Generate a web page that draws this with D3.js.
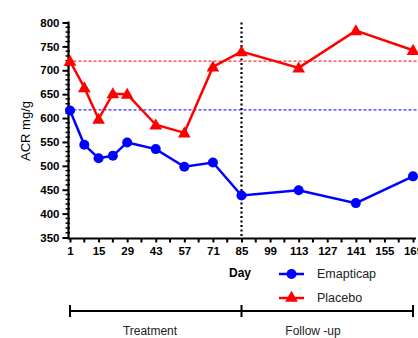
<!DOCTYPE html>
<html>
<head>
<meta charset="utf-8">
<script src="https://cdn.jsdelivr.net/npm/d3@7"></script>
<style>
  html, body { margin: 0; padding: 0; background: #fff; }
  svg { display: block; font-family: "Liberation Sans", Arial, sans-serif; }
</style>
</head>
<body>
<svg id="chart" width="418" height="338"></svg>
<script>
const days = [1, 8, 15, 22, 29, 43, 57, 71, 85, 113, 141, 169];
const emapticap = [616, 544, 516, 521, 549, 535, 498, 507, 438, 449, 422, 478];
const placebo = [719, 664, 598, 651, 650, 586, 569, 707, 739, 705, 783, 742];
const emapticapBaseline = 617;
const placeboBaseline = 719;
const xTickLabels = [1, 15, 29, 43, 57, 71, 85, 99, 113, 127, 141, 155, 169];
const yTickLabels = [350, 400, 450, 500, 550, 600, 650, 700, 750, 800];
const dividerDay = 85;
const seriesNames = ["Emapticap", "Placebo"];
const phases = ["Treatment", "Follow -up"];

const svg = d3.select("#chart");
const x = d3.scaleLinear().domain([1, 169]).range([70, 413]);
const y = d3.scaleLinear().domain([350, 800]).range([237.5, 22.5]);
const x0 = 68.5, yAxisBottom = 238.5;

// Reference lines
svg.append("line").attr("x1", x0).attr("x2", 418)
  .attr("y1", y(placeboBaseline)).attr("y2", y(placeboBaseline))
  .attr("stroke", "#ff3030").attr("stroke-width", 1.3).attr("stroke-dasharray", "3,2");
svg.append("line").attr("x1", x0).attr("x2", 418)
  .attr("y1", y(emapticapBaseline)).attr("y2", y(emapticapBaseline))
  .attr("stroke", "#3030ff").attr("stroke-width", 1.3).attr("stroke-dasharray", "3,2");

// Vertical divider
svg.append("line").attr("x1", x(dividerDay)).attr("x2", x(dividerDay))
  .attr("y1", y(800)).attr("y2", yAxisBottom)
  .attr("stroke", "#000").attr("stroke-width", 2.2).attr("stroke-dasharray", "2,2.5");

// Y axis
const yAxis = svg.append("g").attr("transform", `translate(${x0},0)`)
  .call(d3.axisLeft(y).tickValues(yTickLabels).tickSize(6).tickPadding(3).tickFormat(d3.format("d")));
yAxis.select(".domain").attr("stroke-width", 2.2).attr("d", `M0,${y(800)-1}V${yAxisBottom}`);
yAxis.selectAll(".tick line").attr("stroke-width", 2);
yAxis.selectAll("text").attr("font-size", 11.5).attr("font-weight", "bold").attr("fill", "#000")
  .attr("font-family", "Liberation Sans, Arial, sans-serif");
const yMinor = d3.range(350, 801, 10).filter(v => v % 50 !== 0);
svg.append("g").selectAll("line").data(yMinor).join("line")
  .attr("x1", x0 - 3).attr("x2", x0 + 1.5).attr("y1", d => y(d)).attr("y2", d => y(d))
  .attr("stroke", "#000").attr("stroke-width", 1.5);

// X axis
const xAxis = svg.append("g").attr("transform", `translate(0,${yAxisBottom})`)
  .call(d3.axisBottom(x).tickValues(xTickLabels).tickSize(4).tickPadding(4).tickFormat(d3.format("d")));
xAxis.select(".domain").attr("stroke-width", 2.2).attr("d", `M${x0 - 1},0H416`);
xAxis.selectAll(".tick line").attr("stroke-width", 2);
xAxis.selectAll("text").attr("font-size", 11.5).attr("font-weight", "bold").attr("fill", "#000")
  .attr("font-family", "Liberation Sans, Arial, sans-serif");
const xMinor = d3.range(8, 169, 14);
svg.append("g").selectAll("line").data(xMinor).join("line")
  .attr("x1", d => x(d)).attr("x2", d => x(d)).attr("y1", yAxisBottom).attr("y2", yAxisBottom + 4)
  .attr("stroke", "#000").attr("stroke-width", 2);

// Axis titles
svg.append("text").attr("transform", `translate(30,131) rotate(-90)`)
  .attr("text-anchor", "middle").attr("font-size", 13).text("ACR mg/g");
svg.append("text").attr("x", 240).attr("y", 277).attr("text-anchor", "middle")
  .attr("font-size", 12).attr("font-weight", "bold").text("Day");

// Series
const line = d3.line().x(d => x(d[0])).y(d => y(d[1]));
const emData = days.map((d, i) => [d, emapticap[i]]);
const plData = days.map((d, i) => [d, placebo[i]]);
const tri = d3.symbol().type(d3.symbolTriangle).size(70);

svg.append("path").datum(emData).attr("d", line).attr("fill", "none")
  .attr("stroke", "#0000ff").attr("stroke-width", 2.5);
svg.append("g").selectAll("circle").data(emData).join("circle")
  .attr("cx", d => x(d[0])).attr("cy", d => y(d[1])).attr("r", 5).attr("fill", "#0000ff");

svg.append("path").datum(plData).attr("d", line).attr("fill", "none")
  .attr("stroke", "#ff0000").attr("stroke-width", 2.5);
svg.append("g").selectAll("path").data(plData).join("path")
  .attr("d", tri).attr("transform", d => `translate(${x(d[0])},${y(d[1]) + 1})`).attr("fill", "#ff0000");

// Legend
const legend = svg.append("g");
const legendItems = [
  { name: seriesNames[0], color: "#0000ff", sym: "circle", yy: 274 },
  { name: seriesNames[1], color: "#ff0000", sym: "triangle", yy: 298 }
];
legendItems.forEach(it => {
  legend.append("line").attr("x1", 279).attr("x2", 304).attr("y1", it.yy).attr("y2", it.yy)
    .attr("stroke", it.color).attr("stroke-width", 2.5);
  if (it.sym === "circle") {
    legend.append("circle").attr("cx", 291.5).attr("cy", it.yy).attr("r", 5).attr("fill", it.color);
  } else {
    legend.append("path").attr("d", tri).attr("transform", `translate(291.5,${it.yy})`).attr("fill", it.color);
  }
  legend.append("text").attr("x", 317).attr("y", it.yy + 4).attr("font-size", 12.5)
    .attr("fill", "#222").text(it.name);
});

// Timeline
const tlY = 311;
svg.append("line").attr("x1", x(1)).attr("x2", x(169)).attr("y1", tlY).attr("y2", tlY)
  .attr("stroke", "#000").attr("stroke-width", 2);
[1, dividerDay, 169].forEach(d => {
  svg.append("line").attr("x1", x(d)).attr("x2", x(d)).attr("y1", tlY - 6).attr("y2", tlY + 6)
    .attr("stroke", "#000").attr("stroke-width", 2);
});
svg.append("text").attr("x", 150).attr("y", 335).attr("text-anchor", "middle")
  .attr("font-size", 12).attr("fill", "#222").text(phases[0]);
svg.append("text").attr("x", 313).attr("y", 335).attr("text-anchor", "middle")
  .attr("font-size", 12).attr("fill", "#222").text(phases[1]);
</script>
</body>
</html>
